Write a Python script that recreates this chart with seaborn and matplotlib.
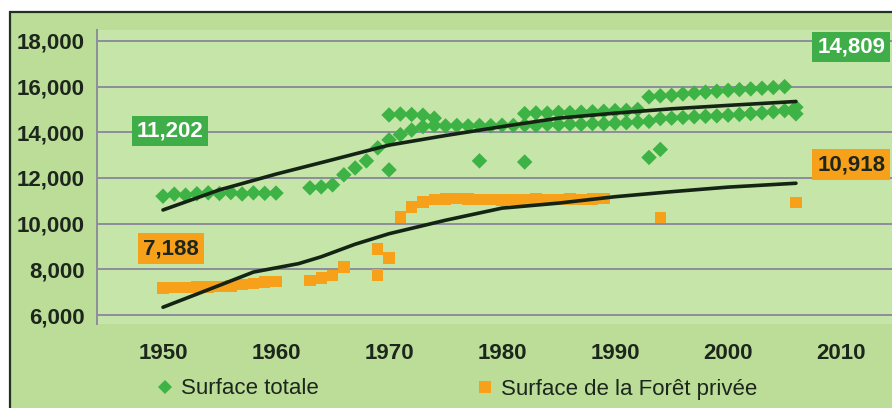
import matplotlib
matplotlib.use("Agg")
import matplotlib.pyplot as plt
import seaborn as sns
import pandas as pd
from matplotlib.patches import Rectangle
from matplotlib.lines import Line2D
from matplotlib import font_manager

# ---- Surface totale (one entry per plotted diamond) ----
total_years = [
    1950, 1951, 1952, 1953, 1954, 1955, 1956, 1957, 1958, 1959, 1960,
    1963, 1964, 1965, 1966, 1967, 1968, 1969, 1970,
    1971, 1972, 1973, 1974, 1975, 1976, 1977, 1978, 1979, 1980, 1981, 1982,
    1983, 1984, 1985, 1986, 1987, 1988, 1989, 1990, 1991, 1992, 1993,
    1994, 1995, 1996, 1997, 1998, 1999, 2000, 2001, 2002, 2003, 2004, 2005,
    1970, 1971, 1972, 1973, 1974,
    1982, 1983, 1984, 1985, 1986, 1987, 1988, 1989, 1990, 1991, 1992,
    1993, 1994, 1995, 1996, 1997, 1998, 1999, 2000, 2001, 2002, 2003, 2004, 2005,
    1970, 1978, 1982, 1993, 1994,
    2006, 2006,
]
total_values = [
    11202, 11290, 11250, 11310, 11350, 11320, 11360, 11300, 11350, 11330, 11340,
    11570, 11610, 11700, 12140, 12440, 12750, 13320, 13670,
    13900, 14100, 14250, 14300, 14280, 14300, 14280, 14300, 14290, 14310, 14300, 14320,
    14300, 14350, 14330, 14360, 14350, 14380, 14370, 14400, 14420, 14450, 14480,
    14600, 14620, 14650, 14680, 14700, 14720, 14750, 14780, 14820, 14850, 14900, 14950,
    14760, 14800, 14780, 14750, 14620,
    14820, 14850, 14840, 14870, 14860, 14880, 14900, 14920, 14950, 14960, 15000,
    15550, 15600, 15620, 15680, 15720, 15760, 15800, 15840, 15870, 15900, 15930, 15960, 16000,
    12355, 12750, 12700, 12900, 13250,
    15100, 14809,
]

# ---- Surface de la Forêt privée ----
private_years = [
    1950, 1951, 1952, 1953, 1954, 1955, 1956, 1957, 1958, 1959, 1960,
    1963, 1964, 1965, 1966, 1969, 1969, 1970,
    1971, 1972, 1973, 1974, 1975, 1976, 1977, 1978, 1979, 1980, 1981,
    1982, 1983, 1984, 1985, 1986, 1987, 1988, 1989,
    1994, 2006,
]
private_values = [
    7188, 7200, 7210, 7220, 7230, 7260, 7280, 7330, 7380, 7450, 7460,
    7500, 7620, 7720, 8100, 8900, 7750, 8500,
    10300, 10730, 10950, 11050, 11080, 11100, 11080, 11050, 11060, 11040, 11050,
    11060, 11080, 11060, 11070, 11080, 11060, 11080, 11100,
    10280, 10918,
]

# ---- trend curves ----
total_trend_years = [1950, 1955, 1960, 1965, 1970, 1975, 1980, 1985, 1990, 1995, 2000, 2006]
total_trend_values = [10600, 11480, 12170, 12800, 13440, 13860, 14250, 14620, 14840, 15030, 15180, 15350]
private_trend_years = [1950, 1955, 1958, 1962, 1964, 1967, 1970, 1975, 1980, 1985, 1990, 1995, 2000, 2006]
private_trend_values = [6340, 7300, 7880, 8250, 8550, 9100, 9560, 10150, 10680, 10900, 11180, 11400, 11600, 11770]

# ---- axes ----
x_ticks = [1950, 1960, 1970, 1980, 1990, 2000, 2010]
y_ticks = [6000, 8000, 10000, 12000, 14000, 16000, 18000]
y_tick_labels = ["6,000", "8,000", "10,000", "12,000", "14,000", "16,000", "18,000"]
series_names = ["Surface totale", "Surface de la Forêt privée"]

GREEN = "#3db345"
GREEN_BOX = "#3fae49"
ORANGE = "#f7a11a"
GRID = "#8e8c9c"
TEXT = "#1c261c"
TREND = "#142414"

sns.set_theme(style="white")
plt.rcParams["font.family"] = ["Liberation Sans", "DejaVu Sans"]

installed = {f.name for f in font_manager.fontManager.ttflist}
NARROW = ["Liberation Sans Narrow", "Liberation Sans"] if "Liberation Sans Narrow" in installed \
    else ["Liberation Sans"]

W, H = 892, 408
fig = plt.figure(figsize=(W / 100, H / 100), dpi=100, facecolor="white")

# green panel with a dark rule along its top and left edges
panel = Rectangle((10 / W, -0.02), 1.02 - 10 / W, 1 - 12 / H + 0.02,
                  transform=fig.transFigure, facecolor="#bbdd97",
                  edgecolor="#1f3320", linewidth=1.6, zorder=-10)
fig.add_artist(panel)

ax = fig.add_axes([97 / W, 1 - 324 / H, 1 - 97 / W, (324 - 30) / H])
ax.set_zorder(1)
ax.set_facecolor("#c6e5a8")

df_total = pd.DataFrame({"year": total_years, "value": total_values})
df_private = pd.DataFrame({"year": private_years, "value": private_values})

sns.lineplot(x=total_trend_years, y=total_trend_values, color=TREND, linewidth=2.6,
             ax=ax, zorder=4)
sns.lineplot(x=private_trend_years, y=private_trend_values, color=TREND, linewidth=2.6,
             ax=ax, zorder=4)
sns.scatterplot(data=df_total, x="year", y="value", marker="D", color=GREEN, s=62,
                linewidth=0, edgecolor="none", ax=ax, zorder=3)
sns.scatterplot(data=df_private, x="year", y="value", marker="s", color=ORANGE, s=68,
                linewidth=0, edgecolor="none", ax=ax, zorder=3)

ax.set_xlim(1944.16, 2014.5)
ax.set_ylim(5606, 18481)
ax.set_xticks(x_ticks)
ax.set_xticklabels([str(t) for t in x_ticks])
ax.set_yticks(y_ticks)
ax.set_yticklabels(y_tick_labels)
ax.set_xlabel("")
ax.set_ylabel("")

ax.yaxis.grid(True, color=GRID, linewidth=1.4)
ax.xaxis.grid(False)
ax.set_axisbelow(True)
for side in ("top", "right", "bottom"):
    ax.spines[side].set_visible(False)
ax.spines["left"].set_color(GRID)
ax.spines["left"].set_linewidth(1.4)

ax.tick_params(axis="y", length=4, width=1.4, color=GRID, pad=5,
               labelsize=16, labelcolor=TEXT)
ax.tick_params(axis="x", length=0, pad=14, labelsize=16, labelcolor=TEXT)
for lab in ax.get_yticklabels():
    lab.set_fontweight("bold")
for lab in ax.get_xticklabels():
    lab.set_fontweight("bold")
    lab.set_family(NARROW)

# value tags for the first and last observations
tag = dict(ha="center", va="center", fontsize=16, fontweight="bold", zorder=6)
ax.text(1950.6, 14060, f"{total_values[0]:,}", color="white",
        bbox=dict(boxstyle="square,pad=0.22", fc=GREEN_BOX, ec="none"), **tag)
ax.text(1950.7, 8900, f"{private_values[0]:,}", color=TEXT,
        bbox=dict(boxstyle="square,pad=0.22", fc=ORANGE, ec="none"), **tag)
ax.text(2010.9, 17740, f"{total_values[-1]:,}", color="white",
        bbox=dict(boxstyle="square,pad=0.22", fc=GREEN_BOX, ec="none"), **tag)
ax.text(2010.9, 12575, f"{private_values[-1]:,}", color=TEXT,
        bbox=dict(boxstyle="square,pad=0.22", fc=ORANGE, ec="none"), **tag)

handles = [
    Line2D([], [], marker="D", linestyle="none", color=GREEN, markersize=7, markeredgewidth=0),
    Line2D([], [], marker="s", linestyle="none", color=ORANGE, markersize=8, markeredgewidth=0),
]
fig.legend(handles, series_names, loc="center left", bbox_to_anchor=(157 / W, 1 - 389 / H),
           ncol=2, frameon=False, fontsize=16, labelcolor=TEXT, handlelength=0.7,
           handletextpad=0.4, columnspacing=7.1, borderpad=0, borderaxespad=0)

fig.savefig("out.png", dpi=100, facecolor=fig.get_facecolor())
